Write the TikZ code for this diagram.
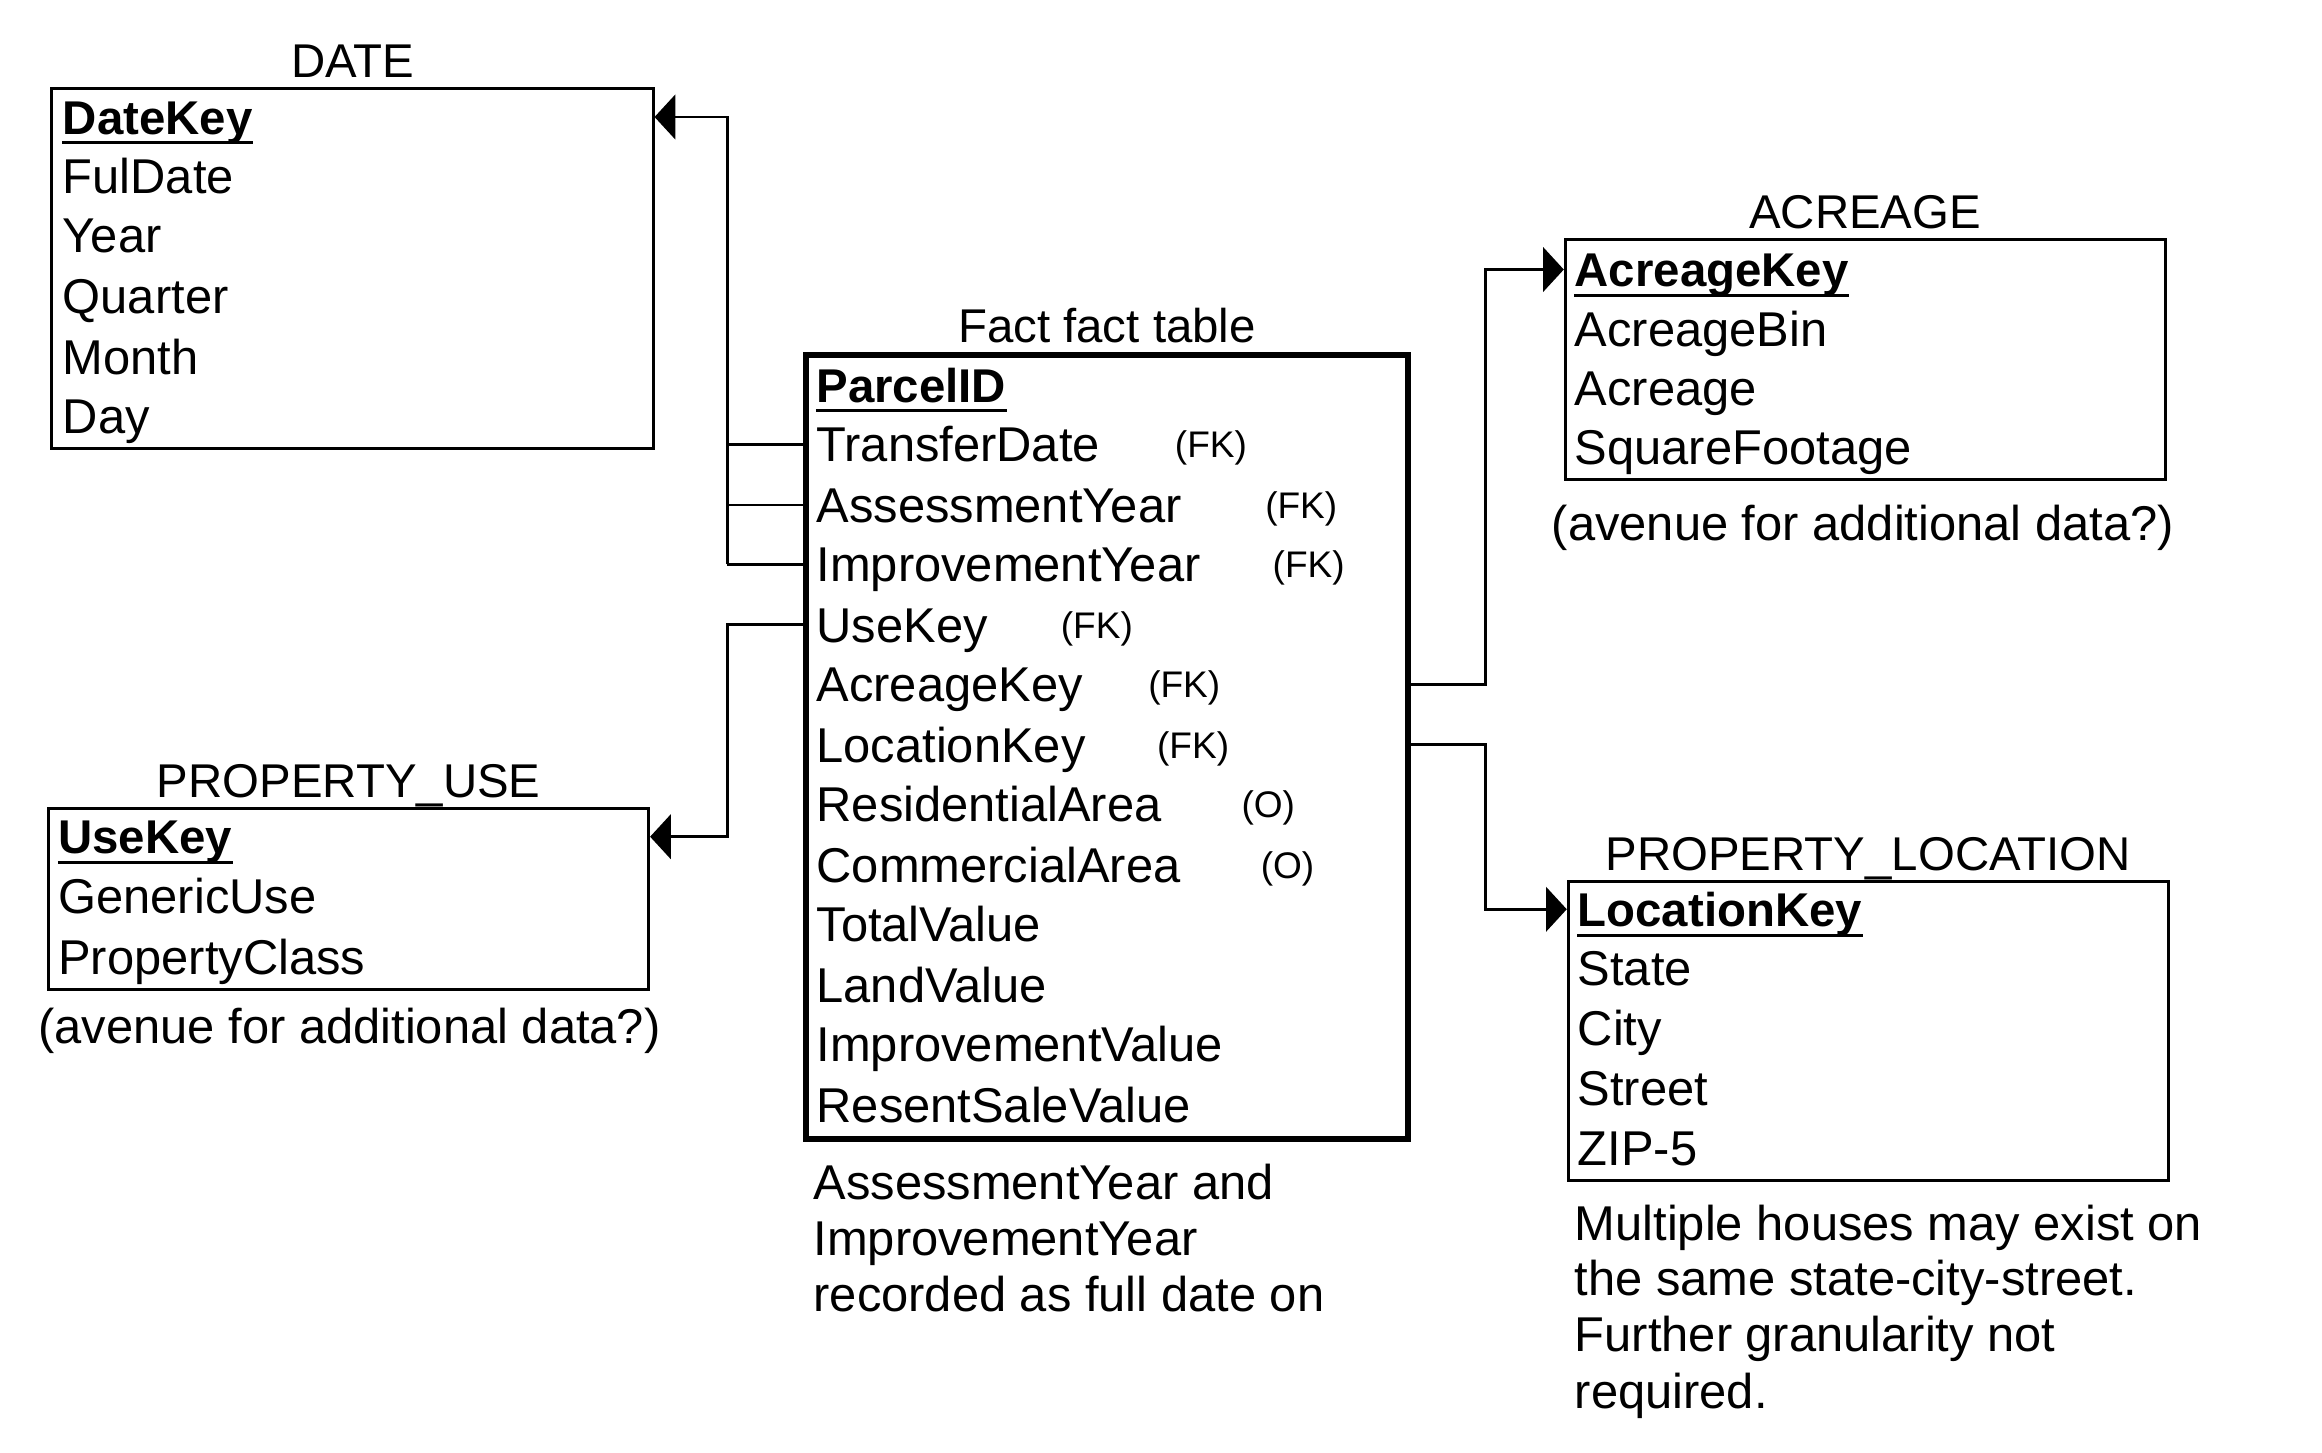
\documentclass[tikz,border=0pt]{standalone}
\usepackage{fontspec}
\setmainfont{Liberation Sans}
\usetikzlibrary{arrows.meta,fit}
\begin{document}
\begin{tikzpicture}[x=0.5pt,y=-0.5pt,
  tbl/.style={draw, line width=1pt, inner sep=0pt},
  facttbl/.style={draw, line width=2pt, inner sep=0pt},
  row/.style={anchor=west, inner sep=0pt, text height=11.8pt, text depth=0pt, font=\fontsize{16.5}{19}\selectfont},
  keyrow/.style={row, text height=11.5pt, font=\fontsize{16}{19}\selectfont\bfseries},
  fk/.style={anchor=west, inner sep=0pt, text height=9pt, text depth=0pt, font=\fontsize{12.5}{14}\selectfont},
  ttl/.style={anchor=center, inner sep=0pt, text height=11.5pt, text depth=0pt, font=\fontsize{16}{19}\selectfont},
  ctxt/.style={row, anchor=center},
  conn/.style={line width=1pt},
  arr/.style={-{Triangle[length=7pt,width=15pt]}},
  ul/.style={line width=1pt}
]
\useasboundingbox (0,0) rectangle (1568,981);

% ---------- DATE ----------
\coordinate (d1) at (35,60); \coordinate (d2) at (441,303);
\node[tbl, fit=(d1)(d2)] (date) {};
\node[ttl] (date-t) at ([yshift=9pt]date.north) {DATE};
\node[keyrow] (d-key) at (42,79) {DateKey};
\node[row] (d-full) at (42,119) {FulDate};
\node[row] (d-year) at (42,159) {Year};
\node[row] (d-qtr) at (42,200) {Quarter};
\node[row] (d-month) at (42,241) {Month};
\node[row] (d-day) at (42,281) {Day};

% ---------- FACT ----------
\coordinate (f1) at (544,240); \coordinate (f2) at (951,769);
\node[facttbl, fit=(f1)(f2)] (fact) {};
\node[ttl] (fact-t) at ([yshift=9pt]fact.north) {Fact fact table};
\node[keyrow] (f-parcel) at (551,260) {ParcelID};
\node[row] (f-transfer) at (551,300) {TransferDate};
\node[row] (f-assess) at (551,341) {AssessmentYear};
\node[row] (f-improve) at (551,381) {ImprovementYear};
\node[row] (f-use) at (551,422) {UseKey};
\node[row] (f-acre) at (551,462) {AcreageKey};
\node[row] (f-loc) at (551,503) {LocationKey};
\node[row] (f-res) at (551,543) {ResidentialArea};
\node[row] (f-com) at (551,584) {CommercialArea};
\node[row] (f-tot) at (551,624) {TotalValue};
\node[row] (f-land) at (551,665) {LandValue};
\node[row] (f-impv) at (551,705) {ImprovementValue};
\node[row] (f-sale) at (551,746) {ResentSaleValue};
\node[fk] (fk1) at (793,300) {(FK)};
\node[fk] (fk2) at (854,341) {(FK)};
\node[fk] (fk3) at (859,381) {(FK)};
\node[fk] (fk4) at (716,422) {(FK)};
\node[fk] (fk5) at (775,462) {(FK)};
\node[fk] (fk6) at (781,503) {(FK)};
\node[fk] (fo1) at (838,543) {(O)};
\node[fk] (fo2) at (851,584) {(O)};
\node[row] (fn1) at (549,798) {AssessmentYear and};
\node[row] (fn2) at (549,836) {ImprovementYear};
\node[row] (fn3) at (549,874) {recorded as full date on};

% ---------- ACREAGE ----------
\coordinate (a1) at (1057,162); \coordinate (a2) at (1462,324);
\node[tbl, fit=(a1)(a2)] (acre) {};
\node[ttl] (acre-t) at ([yshift=9pt]acre.north) {ACREAGE};
\node[keyrow] (a-key) at (1063,182) {AcreageKey};
\node[row] (a-bin) at (1063,222) {AcreageBin};
\node[row] (a-acr) at (1063,262) {Acreage};
\node[row] (a-sq) at (1063,302) {SquareFootage};
\node[ctxt] (a-note) at (1258,353) {(avenue for additional data?)};

% ---------- PROPERTY_USE ----------
\coordinate (p1) at (33,546); \coordinate (p2) at (438,668);
\node[tbl, fit=(p1)(p2)] (puse) {};
\node[ttl] (puse-t) at ([yshift=9pt]puse.north) {PROPERTY\_USE};
\node[keyrow] (pu-key) at (39,565) {UseKey};
\node[row] (pu-gen) at (39,605) {GenericUse};
\node[row] (pu-cls) at (39,646) {PropertyClass};
\node[ctxt] (pu-note) at (236,693) {(avenue for additional data?)};

% ---------- PROPERTY_LOCATION ----------
\coordinate (l1) at (1059,595); \coordinate (l2) at (1464,797);
\node[tbl, fit=(l1)(l2)] (ploc) {};
\node[ttl] (ploc-t) at ([yshift=9pt]ploc.north) {PROPERTY\_LOCATION};
\node[keyrow] (l-key) at (1065,614) {LocationKey};
\node[row] (l-state) at (1065,654) {State};
\node[row] (l-city) at (1065,694) {City};
\node[row] (l-street) at (1065,735) {Street};
\node[row] (l-zip) at (1065,775) {ZIP-5};
\node[row] (ln1) at (1063,826) {Multiple houses may exist on};
\node[row] (ln2) at (1063,863) {the same state-city-street.};
\node[row] (ln3) at (1063,901) {Further granularity not};
\node[row] (ln4) at (1063,939) {required.};

% ---------- key underlines ----------
\foreach \k in {d-key,f-parcel,a-key,pu-key,l-key}
  \draw[ul] ([yshift=-2.8pt]\k.south west) -- ([yshift=-2.8pt]\k.south east);

% ---------- connectors ----------
\coordinate (busD) at (491,0);
\coordinate (busA) at (1003,0);
\draw[conn,arr] (busD |- f-improve) -- (busD |- d-key) -- (date.east |- d-key);
\draw[conn] (fact.west |- f-transfer) -- (busD |- f-transfer);
\draw[conn] (fact.west |- f-assess) -- (busD |- f-assess);
\draw[conn] (fact.west |- f-improve) -- (busD |- f-improve);
\draw[conn,arr] (fact.west |- f-use) -- (busD |- f-use) -- (busD |- pu-key) -- (puse.east |- pu-key);
\draw[conn,arr] (fact.east |- f-acre) -- (busA |- f-acre) -- (busA |- a-key) -- (acre.west |- a-key);
\draw[conn,arr] (fact.east |- f-loc) -- (busA |- f-loc) -- (busA |- l-key) -- (ploc.west |- l-key);
\end{tikzpicture}
\end{document}
